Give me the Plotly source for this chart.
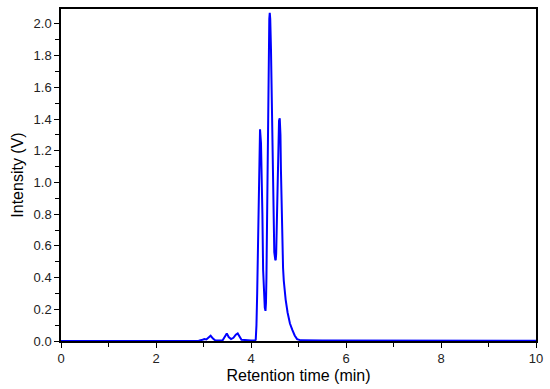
import plotly.graph_objects as go

# Retention time (min) and intensity (V)
time_min = [0.0, 1.0, 2.0, 2.9, 2.98, 3.02, 3.06, 3.1, 3.15, 3.2, 3.25, 3.4, 3.45, 3.49,
            3.53, 3.58, 3.63, 3.68, 3.72, 3.76, 3.8, 4.0, 4.09, 4.10, 4.115, 4.13, 4.145,
            4.155, 4.165, 4.175, 4.19, 4.21, 4.225, 4.24, 4.255, 4.27, 4.29, 4.305, 4.315,
            4.325, 4.335, 4.345, 4.355, 4.37, 4.385, 4.395, 4.405, 4.42, 4.435, 4.45, 4.46,
            4.475, 4.49, 4.51, 4.52, 4.53, 4.545, 4.555, 4.565, 4.575, 4.59, 4.605, 4.62,
            4.63, 4.645, 4.66, 4.675, 4.69, 4.71, 4.73, 4.77, 4.82, 4.87, 4.92, 4.97, 5.05,
            5.5, 6.5, 8.0, 10.0]
intensity_v = [0.0, 0.0, 0.001, 0.002, 0.008, 0.012, 0.01, 0.022, 0.033, 0.015, 0.003,
               0.003, 0.025, 0.048, 0.025, 0.012, 0.02, 0.04, 0.048, 0.025, 0.008, 0.003,
               0.004, 0.01, 0.1, 0.3, 0.55, 0.8, 1.1, 1.28, 1.335, 1.25, 1.1, 0.8, 0.45,
               0.28, 0.21, 0.19, 0.24, 0.4, 0.65, 1.0, 1.5, 1.85, 2.03, 2.07, 2.03, 1.85,
               1.55, 1.15, 0.85, 0.66, 0.56, 0.515, 0.51, 0.55, 0.75, 1.0, 1.2, 1.32, 1.39,
               1.405, 1.3, 1.08, 0.78, 0.58, 0.46, 0.38, 0.31, 0.26, 0.18, 0.11, 0.07,
               0.035, 0.012, 0.004, 0.003, 0.002, 0.001, 0.001]

x_ticks = [0, 2, 4, 6, 8, 10]
y_ticks = [0.0, 0.2, 0.4, 0.6, 0.8, 1.0, 1.2, 1.4, 1.6, 1.8, 2.0]

fig = go.Figure()
fig.add_trace(go.Scatter(x=time_min, y=intensity_v, mode="lines",
                         line=dict(color="#0000ff", width=2), showlegend=False))

axis_common = dict(showgrid=False, zeroline=False, showline=True, linecolor="black",
                   linewidth=1.5, mirror=True, ticks="outside", ticklen=5, tickwidth=1.2,
                   tickcolor="black", tickfont=dict(family="Liberation Sans, Arial", size=13, color="#222"))

fig.update_xaxes(range=[0, 10], tickvals=x_ticks, ticktext=[str(v) for v in x_ticks],
                 minor=dict(dtick=1, ticks="outside", ticklen=4, tickwidth=1.2, tickcolor="black"),
                 title=dict(text="Retention time (min)", standoff=4,
                            font=dict(family="Liberation Sans, Arial", size=16, color="black")),
                 **axis_common)
fig.update_yaxes(range=[0, 2.094], tickvals=y_ticks, ticktext=[f"{v:.1f}" for v in y_ticks],
                 minor=dict(tick0=0, dtick=0.1, ticks="outside", ticklen=4, tickwidth=1.2, tickcolor="black"),
                 title=dict(text="Intensity (V)", standoff=6,
                            font=dict(family="Liberation Sans, Arial", size=16, color="black")),
                 **axis_common)

fig.update_layout(width=550, height=389, margin=dict(l=61, r=12, t=7, b=48),
                  plot_bgcolor="white", paper_bgcolor="white")

fig.write_html("out.html", config={"displayModeBar": False},
               post_script="document.body.style.margin='0';document.body.style.overflow='hidden';")
